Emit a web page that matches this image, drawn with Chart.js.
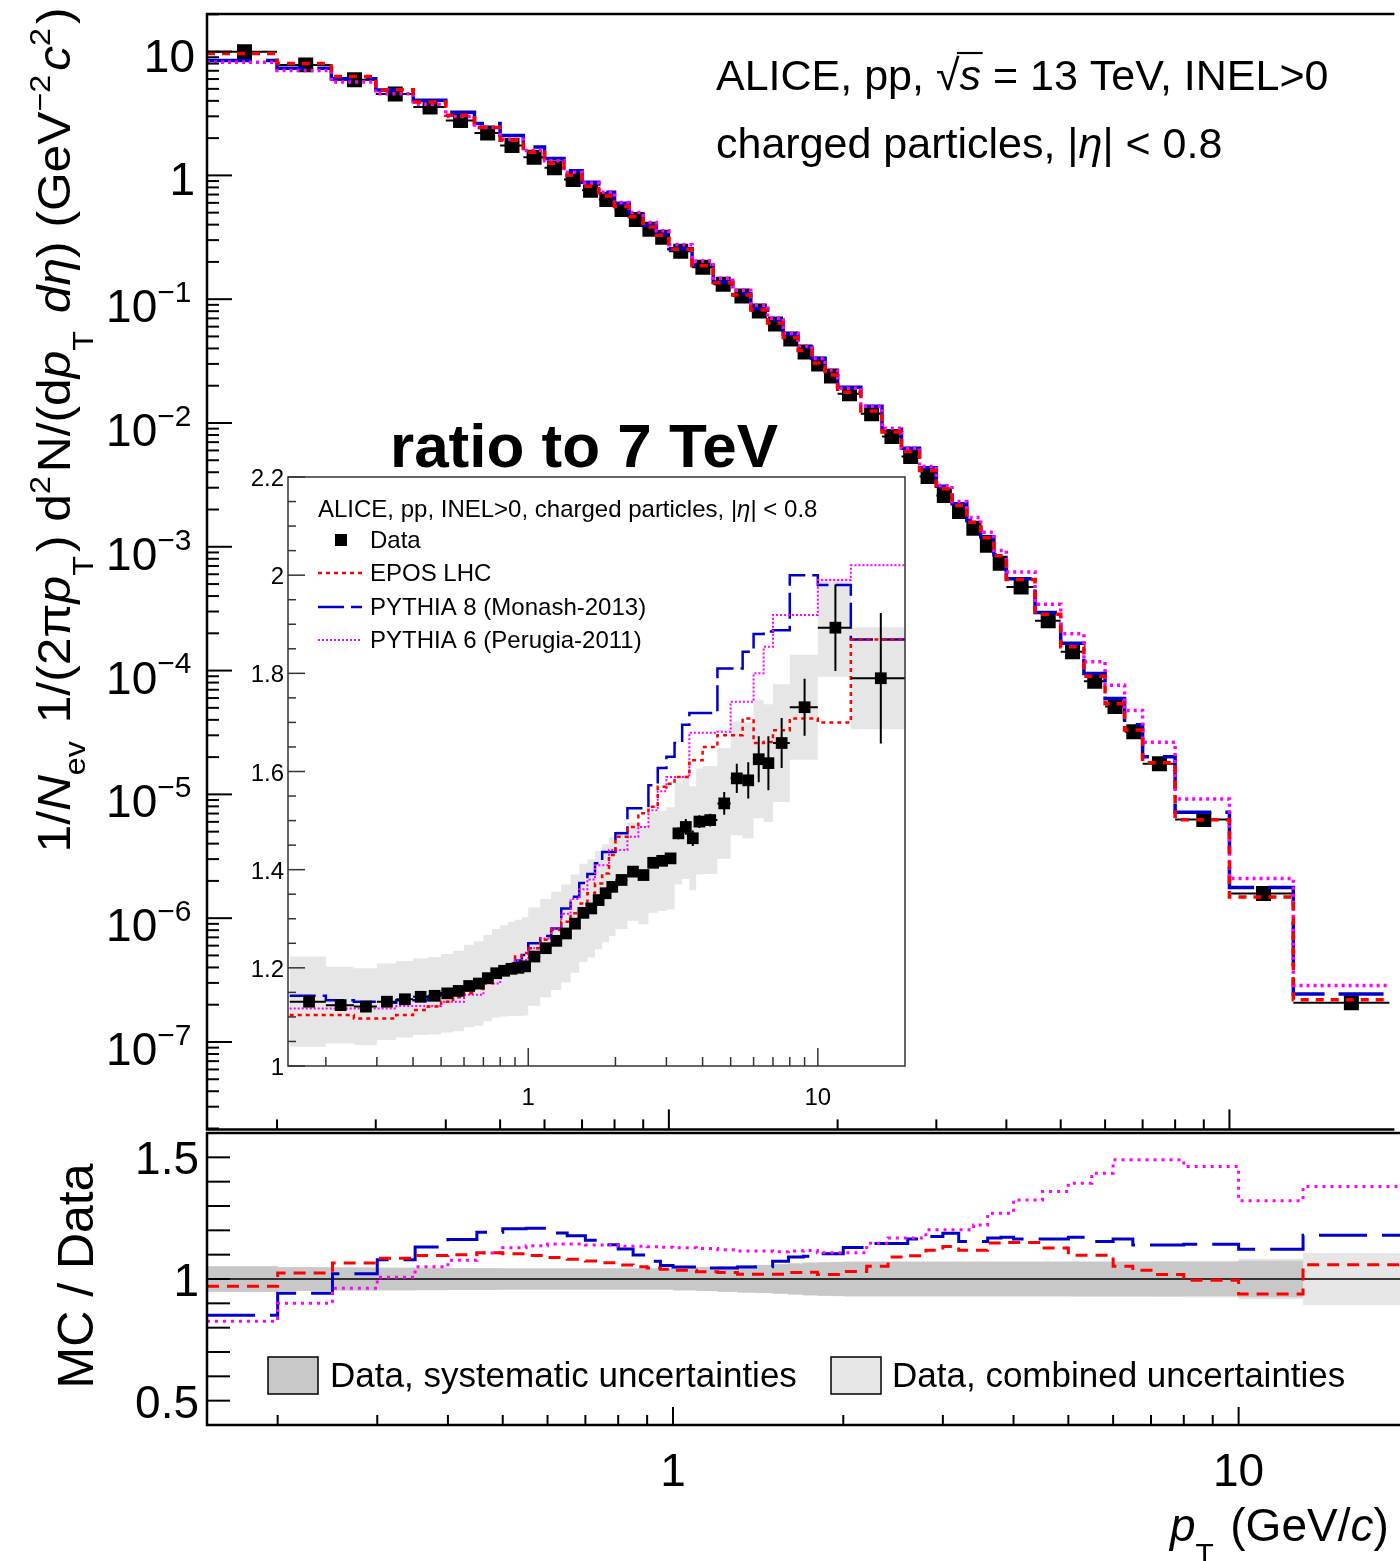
<!DOCTYPE html>
<html>
<head>
<meta charset="utf-8">
<script src="https://cdn.jsdelivr.net/npm/chart.js@4.4.1/dist/chart.umd.min.js"></script>
<style>
  html, body { margin: 0; padding: 0; background: #fff; overflow: hidden; }
  #page { position: relative; width: 1400px; height: 1561px; overflow: hidden; background: #fff; }
  canvas { position: absolute; }
</style>
</head>
<body>
<div id="page">
  <canvas id="mainChart" width="1400" height="1140" style="left:0;top:0"></canvas>
  <canvas id="ratioChart" width="1400" height="435" style="left:0;top:1126px"></canvas>
  <canvas id="insetChart" width="690" height="720" style="left:230px;top:400px"></canvas>
</div>
<script>
const FONT = '"Liberation Sans", Arial, Helvetica, sans-serif';
const RED = '#ff0000', BLUE = '#0000cc', MAGENTA = '#ff00ff';

// pT bin edges (GeV/c)
const binEdges = [0.15, 0.2, 0.25, 0.3, 0.35, 0.4, 0.45, 0.5, 0.55, 0.6, 0.65, 0.7, 0.75, 0.8, 0.85, 0.9, 0.95, 1.0,
  1.1, 1.2, 1.3, 1.4, 1.5, 1.6, 1.7, 1.8, 1.9, 2.0, 2.2, 2.4, 2.6, 2.8, 3.0, 3.2, 3.4, 3.6, 3.8, 4.0,
  4.5, 5.0, 5.5, 6.0, 6.5, 7.0, 8.0, 10.0, 13.0, 20.0];

// 13 TeV spectrum, 1/Nev 1/(2pi pT) d2N/(dpT deta)
const dataSpec = [9.95, 7.81, 5.91, 4.54, 3.57, 2.78, 2.20, 1.74, 1.40, 1.15, 0.927, 0.760, 0.640, 0.531, 0.441, 0.367, 0.316,
  0.244, 0.181, 0.132, 0.106, 0.0802, 0.0631, 0.0477, 0.0375, 0.0300, 0.0240,
  0.0172, 0.0119, 0.00776, 0.00536, 0.00370, 0.00260, 0.00193, 0.00141, 0.00103, 0.000736,
  4.73e-4, 2.53e-4, 1.42e-4, 8.20e-5, 5.12e-5, 3.20e-5,
  1.77e-5, 6.28e-6, 1.58e-6, 2.07e-7];

// MC / Data (lower panel)
const ratioEpos = [0.970, 1.025, 1.066, 1.085, 1.097, 1.100, 1.108, 1.104, 1.097, 1.088, 1.081, 1.074, 1.067, 1.058, 1.050, 1.045, 1.040,
  1.036, 1.030, 1.027, 1.020, 1.020, 1.020, 1.027, 1.028, 1.019, 1.019,
  1.031, 1.052, 1.090, 1.096, 1.118, 1.134, 1.118, 1.118, 1.148, 1.150,
  1.150, 1.127, 1.098, 1.098, 1.052, 1.036,
  1.018, 0.995, 0.938, 1.059];
const ratioPy8 = [0.851, 0.941, 1.022, 1.079, 1.132, 1.162, 1.192, 1.206, 1.209, 1.189, 1.178, 1.159, 1.141, 1.123, 1.099, 1.073, 1.055,
  1.049, 1.045, 1.045, 1.049, 1.050, 1.073, 1.090, 1.093, 1.104, 1.104,
  1.129, 1.146, 1.146, 1.164, 1.175, 1.188, 1.154, 1.154, 1.168, 1.172,
  1.164, 1.164, 1.172, 1.154, 1.164, 1.140,
  1.140, 1.143, 1.122, 1.180];
const ratioPy6 = [0.826, 0.900, 0.962, 1.007, 1.050, 1.077, 1.107, 1.128, 1.137, 1.144, 1.144, 1.140, 1.140, 1.135, 1.135, 1.133, 1.130,
  1.128, 1.125, 1.120, 1.115, 1.115, 1.112, 1.115, 1.117, 1.108, 1.108,
  1.108, 1.147, 1.168, 1.168, 1.202, 1.202, 1.202, 1.222, 1.270, 1.270,
  1.325, 1.360, 1.394, 1.435, 1.490, 1.490,
  1.490, 1.462, 1.322, 1.380];
// relative uncertainties of the data (half widths)
const sysRel = [0.052, 0.048, 0.047, 0.046, 0.045, 0.044, 0.044, 0.043, 0.043, 0.043, 0.043, 0.043, 0.043, 0.043, 0.043, 0.043, 0.043,
  0.046, 0.049, 0.052, 0.055, 0.058, 0.061, 0.064, 0.067, 0.069, 0.070,
  0.071, 0.071, 0.071, 0.071, 0.071, 0.071, 0.071, 0.071, 0.071, 0.071,
  0.071, 0.071, 0.071, 0.071, 0.071, 0.071,
  0.071, 0.071, 0.075, 0.0];
const combRel = [0.053, 0.049, 0.048, 0.047, 0.046, 0.045, 0.045, 0.044, 0.044, 0.044, 0.044, 0.044, 0.044, 0.044, 0.044, 0.044, 0.044,
  0.047, 0.050, 0.053, 0.056, 0.059, 0.062, 0.065, 0.068, 0.070, 0.071,
  0.072, 0.072, 0.072, 0.072, 0.072, 0.072, 0.072, 0.072, 0.072, 0.072,
  0.072, 0.072, 0.073, 0.073, 0.073, 0.073,
  0.074, 0.075, 0.083, 0.107];

// inset: ratio 13 TeV / 7 TeV
const insetData = [1.131, 1.124, 1.121, 1.131, 1.136, 1.141, 1.143, 1.148, 1.153, 1.163, 1.168, 1.179, 1.189, 1.194, 1.198, 1.200, 1.203,
  1.223, 1.240, 1.255, 1.270, 1.290, 1.312, 1.321, 1.338, 1.352, 1.365,
  1.379, 1.396, 1.389, 1.414, 1.418, 1.423, 1.474, 1.487, 1.464, 1.498,
  1.501, 1.535, 1.586, 1.582, 1.625, 1.617,
  1.658, 1.731, 1.893, 1.790];
const insetStat = [0.003, 0.003, 0.003, 0.003, 0.003, 0.003, 0.003, 0.003, 0.003, 0.003, 0.003, 0.003, 0.003, 0.003, 0.003, 0.003, 0.003,
  0.004, 0.004, 0.004, 0.004, 0.004, 0.004, 0.004, 0.004, 0.004, 0.004,
  0.005, 0.005, 0.006, 0.006, 0.007, 0.008, 0.012, 0.016, 0.016, 0.013,
  0.013, 0.023, 0.030, 0.037, 0.047, 0.055,
  0.051, 0.058, 0.088, 0.133];
const insetSys = [0.092, 0.078, 0.078, 0.078, 0.078, 0.078, 0.079, 0.080, 0.082, 0.084, 0.086, 0.088, 0.090, 0.093, 0.096, 0.098, 0.100,
  0.100, 0.100, 0.100, 0.100, 0.100, 0.100, 0.100, 0.100, 0.100, 0.100,
  0.100, 0.100, 0.100, 0.102, 0.102, 0.104, 0.104, 0.106, 0.106, 0.108,
  0.110, 0.113, 0.116, 0.118, 0.120, 0.120,
  0.120, 0.107, 0.100, 0.104];
const insetEpos = [1.104, 1.104, 1.097, 1.097, 1.104, 1.114, 1.121, 1.131, 1.140, 1.148, 1.158, 1.168, 1.182, 1.196, 1.209, 1.223, 1.230,
  1.240, 1.257, 1.277, 1.294, 1.311, 1.331, 1.352, 1.372, 1.392, 1.430,
  1.467, 1.487, 1.515, 1.528, 1.569, 1.575, 1.589, 1.589, 1.623, 1.623,
  1.650, 1.674, 1.674, 1.708, 1.658, 1.660,
  1.684, 1.708, 1.700, 1.869];
const insetPy8 = [1.143, 1.134, 1.131, 1.129, 1.134, 1.134, 1.141, 1.148, 1.153, 1.158, 1.164, 1.172, 1.182, 1.196, 1.205, 1.215, 1.226,
  1.250, 1.265, 1.280, 1.321, 1.345, 1.373, 1.391, 1.413, 1.436, 1.436,
  1.474, 1.525, 1.525, 1.572, 1.607, 1.630, 1.658, 1.695, 1.719, 1.719,
  1.719, 1.810, 1.810, 1.844, 1.880, 1.885,
  1.888, 2.000, 1.980, 1.869];
const insetPy6 = [1.117, 1.117, 1.117, 1.117, 1.122, 1.122, 1.122, 1.131, 1.131, 1.145, 1.145, 1.168, 1.168, 1.196, 1.196, 1.216, 1.216,
  1.240, 1.260, 1.280, 1.310, 1.340, 1.360, 1.380, 1.409, 1.409, 1.440,
  1.440, 1.467, 1.487, 1.521, 1.560, 1.589, 1.589, 1.589, 1.679, 1.679,
  1.679, 1.681, 1.742, 1.742, 1.800, 1.854,
  1.919, 1.919, 1.990, 2.020];

// tick labels
const mainYTickValues = [10, 1, 1e-1, 1e-2, 1e-3, 1e-4, 1e-5, 1e-6, 1e-7];
const mainYTickLabels = ['10', '1', '10^\u22121', '10^\u22122', '10^\u22123', '10^\u22124', '10^\u22125', '10^\u22126', '10^\u22127'];
const ratioYTickValues = [1.5, 1, 0.5];
const ratioYTickLabels = ['1.5', '1', '0.5'];
const xTickValues = [1, 10];
const xTickLabels = ['1', '10'];
const insetYTickValues = [1, 1.2, 1.4, 1.6, 1.8, 2, 2.2];
const insetYTickLabels = ['1', '1.2', '1.4', '1.6', '1.8', '2', '2.2'];

// axis ranges
const xMinMain = 0.15, xMaxMain = 19.29;
const yMinMain = 1.967e-8, yMaxMain = 20.12;
const xMinInset = 0.148, xMaxInset = 20;
const OY = 1126, IX = 230, IY = 400;

const binCenters = binEdges.slice(0, -1).map((e, i) => (e + binEdges[i + 1]) / 2);
const eposSpec = dataSpec.map((v, i) => v * ratioEpos[i]);
const py8Spec = dataSpec.map((v, i) => v * ratioPy8[i]);
const py6Spec = dataSpec.map((v, i) => v * ratioPy6[i]);

function hist(vals) {
  return binEdges.map((e, i) => ({ x: e, y: vals[Math.min(i, vals.length - 1)] }));
}
function points(vals) {
  return binCenters.map((c, i) => ({ x: c, y: vals[i] }));
}
function errBars(vals, errs) {
  const out = [];
  vals.forEach((v, i) => {
    out.push({ x: binEdges[i], y: v }, { x: binEdges[i + 1], y: v }, { x: binCenters[i], y: null });
    if (errs) out.push({ x: binCenters[i], y: v - errs[i] }, { x: binCenters[i], y: v + errs[i] }, { x: binCenters[i], y: null });
  });
  return out;
}

function drawRich(ctx, parts, x, y, size, align, measureOnly) {
  const items = parts.map(([t, k]) => {
    const small = k === 'sub' || k === 'subp' || k === 'sup';
    const fs = small ? size * 0.65 : size;
    let style = '';
    if (k === 'i' || k === 'io') style = 'italic ';
    if (k === 'b') style = 'bold ';
    const font = style + fs.toFixed(1) + 'px ' + FONT;
    ctx.font = font;
    let dy = 0;
    if (k === 'sub') dy = size * 0.32;
    if (k === 'subp') dy = size * 0.5;
    if (k === 'sup') dy = -size * 0.44;
    const gap = small ? size * 0.08 : 0;
    return { t, k, font, dy, w: ctx.measureText(t).width + gap };
  });
  const total = items.reduce((s, it) => s + it.w, 0);
  if (measureOnly) return total;
  let cx = align === 'right' ? x - total : align === 'center' ? x - total / 2 : x;
  ctx.fillStyle = '#000';
  ctx.textAlign = 'left';
  ctx.textBaseline = 'alphabetic';
  items.forEach(it => {
    ctx.font = it.font;
    ctx.fillText(it.t, cx, y + it.dy);
    if (it.k === 'io') {
      ctx.save();
      ctx.strokeStyle = '#000';
      ctx.lineWidth = size * 0.05;
      ctx.beginPath();
      ctx.moveTo(cx - size * 0.06, y - size * 0.86);
      ctx.lineTo(cx + it.w + size * 0.04, y - size * 0.86);
      ctx.stroke();
      ctx.restore();
    }
    cx += it.w;
  });
  return total;
}

function seg(ctx, x1, y1, x2, y2) {
  ctx.beginPath(); ctx.moveTo(x1, y1); ctx.lineTo(x2, y2); ctx.stroke();
}
function logTicks(min, max) {
  const out = [];
  for (let k = Math.floor(Math.log10(min)); k <= Math.ceil(Math.log10(max)); k++) {
    for (let m = 1; m <= 9; m++) {
      const v = m * Math.pow(10, k);
      if (v > min && v < max) out.push({ v, major: m === 1 });
    }
  }
  return out;
}
function tickText(ctx, label, xr, py, size) {
  if (label.includes('^')) {
    const [b, e] = label.split('^');
    drawRich(ctx, [[b, 'n'], [e, 'sup']], xr, py + 23, size, 'right');
  } else {
    drawRich(ctx, [[label, 'n']], xr, py + 20, size, 'right');
  }
}

const yTitleParts = [['1/', 'n'], ['N', 'i'], ['ev', 'sub'], [' 1/(2\u03c0', 'n'], ['p', 'i'], ['T', 'subp'], [') d', 'n'], ['2', 'sup'],
  ['N/(d', 'n'], ['p', 'i'], ['T', 'subp'], [' ', 'n'], ['d\u03b7', 'i'], [') (GeV', 'n'], ['\u22122', 'sup'], ['c', 'i'], ['2', 'sup'], [')', 'n']];

const mainDecor = {
  id: 'mainDecor',
  afterDraw(chart) {
    const { ctx, chartArea: a, scales: { x, y } } = chart;
    ctx.save();
    ctx.strokeStyle = '#000';
    ctx.lineWidth = 2;
    logTicks(yMinMain, yMaxMain).forEach(t => {
      const py = y.getPixelForValue(t.v);
      seg(ctx, a.left, py, a.left + (t.major ? 25 : 12), py);
    });
    logTicks(xMinMain, xMaxMain).forEach(t => {
      const px = x.getPixelForValue(t.v);
      seg(ctx, px, a.bottom, px, a.bottom - (t.major ? 20 : 10));
    });
    ctx.lineWidth = 2.5;
    ctx.beginPath();
    ctx.moveTo(a.right + 5, a.top); ctx.lineTo(a.left, a.top); ctx.lineTo(a.left, a.bottom); ctx.lineTo(a.right + 5, a.bottom);
    ctx.stroke();
    mainYTickValues.forEach((v, i) => tickText(ctx, mainYTickLabels[i], 195, y.getPixelForValue(v), 46));
    // axis title
    const w = drawRich(ctx, yTitleParts, 0, 0, 46, 'center', true);
    ctx.save();
    ctx.translate(70, 430);
    ctx.rotate(-Math.PI / 2);
    ctx.scale(845 / w, 1);
    drawRich(ctx, yTitleParts, 0, 0, 46, 'center');
    ctx.restore();
    drawRich(ctx, [['ALICE, pp, ', 'n'], ['\u221a', 'n'], ['s', 'io'], [' = 13 TeV, INEL>0', 'n']], 716, 90, 43, 'left');
    drawRich(ctx, [['charged particles, |', 'n'], ['\u03b7', 'i'], ['| < 0.8', 'n']], 716, 158, 43, 'left');
    ctx.restore();
  }
};

const ratioDecor = {
  id: 'ratioDecor',
  afterDraw(chart) {
    const { ctx, chartArea: a, scales: { x, y } } = chart;
    ctx.save();
    ctx.strokeStyle = '#000';
    ctx.lineWidth = 2;
    for (let k = 5; k <= 15; k++) {
      const py = y.getPixelForValue(k / 10);
      seg(ctx, a.left, py, a.left + 23, py);
    }
    logTicks(xMinMain, xMaxMain).forEach(t => {
      const px = x.getPixelForValue(t.v);
      seg(ctx, px, a.bottom, px, a.bottom - (t.major ? 18 : 10));
    });
    ctx.lineWidth = 2.5;
    ctx.beginPath();
    ctx.moveTo(a.right + 5, a.top); ctx.lineTo(a.left, a.top); ctx.lineTo(a.left, a.bottom); ctx.lineTo(a.right + 5, a.bottom);
    ctx.stroke();
    ratioYTickValues.forEach((v, i) => drawRich(ctx, [[ratioYTickLabels[i], 'n']], 199, y.getPixelForValue(v) + 17, 46, 'right'));
    xTickValues.forEach((v, i) => drawRich(ctx, [[xTickLabels[i], 'n']], x.getPixelForValue(v), 1486 - OY, 46, 'center'));
    drawRich(ctx, [['p', 'i'], ['T', 'subp'], [' (GeV/', 'n'], ['c', 'i'], [')', 'n']], 1170, 1541 - OY, 46, 'left');
    ctx.save();
    ctx.translate(93, 1276 - OY);
    ctx.rotate(-Math.PI / 2);
    drawRich(ctx, [['MC / Data', 'n']], 0, 0, 50, 'center');
    ctx.restore();
    // legend
    ctx.lineWidth = 1.5;
    ctx.fillStyle = '#c8c8c8';
    ctx.fillRect(268, 1357 - OY, 50, 37);
    ctx.strokeRect(268, 1357 - OY, 50, 37);
    drawRich(ctx, [['Data, systematic uncertainties', 'n']], 330, 1387 - OY, 35, 'left');
    ctx.fillStyle = '#e6e6e6';
    ctx.fillRect(831, 1357 - OY, 50, 37);
    ctx.strokeRect(831, 1357 - OY, 50, 37);
    drawRich(ctx, [['Data, combined uncertainties', 'n']], 892, 1387 - OY, 35, 'left');
    ctx.restore();
  }
};

const insetDecor = {
  id: 'insetDecor',
  beforeDraw(chart) {
    const { ctx, chartArea: a } = chart;
    ctx.save();
    ctx.fillStyle = '#fff';
    ctx.fillRect(a.left, a.top, a.right - a.left, a.bottom - a.top);
    ctx.restore();
  },
  afterDraw(chart) {
    const { ctx, chartArea: a, scales: { x, y } } = chart;
    ctx.save();
    ctx.strokeStyle = '#333';
    ctx.lineWidth = 1.5;
    for (let k = 20; k <= 44; k++) {
      const py = y.getPixelForValue(k / 20);
      seg(ctx, a.left, py, a.left + (k % 4 === 0 ? 17 : 8), py);
    }
    logTicks(xMinInset, xMaxInset).forEach(t => {
      const px = x.getPixelForValue(t.v);
      seg(ctx, px, a.bottom, px, a.bottom - (t.major ? 18 : 9));
    });
    ctx.strokeRect(a.left, a.top, a.right - a.left, a.bottom - a.top);
    insetYTickValues.forEach((v, i) => drawRich(ctx, [[insetYTickLabels[i], 'n']], 284 - IX, y.getPixelForValue(v) + 9, 24, 'right'));
    xTickValues.forEach((v, i) => drawRich(ctx, [[xTickLabels[i], 'n']], x.getPixelForValue(v), 1105 - IY, 24, 'center'));
    drawRich(ctx, [['ratio to 7 TeV', 'b']], 390 - IX, 467 - IY, 62, 'left');
    drawRich(ctx, [['ALICE, pp, INEL>0, charged particles, |', 'n'], ['\u03b7', 'i'], ['| < 0.8', 'n']], 318 - IX, 517 - IY, 24, 'left');
    // legend entries
    ctx.fillStyle = '#000';
    ctx.fillRect(341 - 6 - IX, 540 - 6 - IY, 12, 12);
    drawRich(ctx, [['Data', 'n']], 370 - IX, 548 - IY, 24, 'left');
    const entries = [
      { label: 'EPOS LHC', c: RED, w: 2.5, d: [4, 4], py: 573 },
      { label: 'PYTHIA 8 (Monash-2013)', c: BLUE, w: 2.5, d: [26, 7], py: 607 },
      { label: 'PYTHIA 6 (Perugia-2011)', c: MAGENTA, w: 2, d: [2, 2], py: 640 }
    ];
    entries.forEach(e => {
      ctx.save();
      ctx.strokeStyle = e.c; ctx.lineWidth = e.w; ctx.setLineDash(e.d);
      seg(ctx, 318 - IX, e.py - IY, 362 - IX, e.py - IY);
      ctx.restore();
      drawRich(ctx, [[e.label, 'n']], 370 - IX, e.py + 8 - IY, 24, 'left');
    });
    ctx.restore();
  }
};

const baseOptions = (padding, xScale, yScale) => ({
  responsive: false,
  animation: false,
  devicePixelRatio: 1,
  layout: { padding },
  plugins: { legend: { display: false }, tooltip: { enabled: false } },
  scales: { x: xScale, y: yScale },
  elements: { line: { tension: 0 }, point: { radius: 0 } }
});

const stepLine = (label, vals, color, width, dash, order) => ({
  label, data: hist(vals), stepped: true, borderColor: color, borderWidth: width, borderDash: dash,
  pointRadius: 0, fill: false, order
});

new Chart(document.getElementById('mainChart'), {
  type: 'line',
  data: {
    datasets: [
      stepLine('EPOS LHC', eposSpec, RED, 3.5, [8, 7], 1),
      stepLine('PYTHIA 6 (Perugia-2011)', py6Spec, MAGENTA, 3.5, [3, 4], 2),
      stepLine('PYTHIA 8 (Monash-2013)', py8Spec, BLUE, 3.5, [45, 14], 3),
      { label: 'Data', data: points(dataSpec), showLine: false, pointStyle: 'rect', pointRadius: 10.6,
        pointBackgroundColor: '#000', pointBorderWidth: 0, order: 4 },
      { label: 'bin width', data: errBars(dataSpec), borderColor: '#000', borderWidth: 2, pointRadius: 0, spanGaps: false, order: 5 }
    ]
  },
  options: baseOptions({ left: 207, top: 14, right: 0, bottom: 7 },
    { type: 'logarithmic', min: xMinMain, max: xMaxMain, display: false, bounds: 'data' },
    { type: 'logarithmic', min: yMinMain, max: yMaxMain, display: false, bounds: 'data' }),
  plugins: [mainDecor]
});

new Chart(document.getElementById('ratioChart'), {
  type: 'line',
  data: {
    datasets: [
      { label: 'comb up', data: hist(combRel.map(h => 1 + h)), stepped: true, borderWidth: 0, pointRadius: 0, fill: false, order: 9 },
      { label: 'Data, combined uncertainties', data: hist(combRel.map(h => 1 - h)), stepped: true, borderWidth: 0, pointRadius: 0,
        fill: '-1', backgroundColor: '#e6e6e6', order: 8 },
      { label: 'sys up', data: hist(sysRel.map(h => 1 + h)), stepped: true, borderWidth: 0, pointRadius: 0, fill: false, order: 7 },
      { label: 'Data, systematic uncertainties', data: hist(sysRel.map(h => 1 - h)), stepped: true, borderWidth: 0, pointRadius: 0,
        fill: '-1', backgroundColor: '#c8c8c8', order: 6 },
      { label: 'unity', data: [{ x: xMinMain, y: 1 }, { x: 20, y: 1 }], borderColor: '#000', borderWidth: 1.5, pointRadius: 0, order: 5 },
      stepLine('PYTHIA 8 (Monash-2013)', ratioPy8, BLUE, 3, [48, 15], 3),
      stepLine('PYTHIA 6 (Perugia-2011)', ratioPy6, MAGENTA, 3, [3, 5], 2),
      stepLine('EPOS LHC', ratioEpos, RED, 3, [12, 8], 1)
    ]
  },
  options: baseOptions({ left: 207, top: 7, right: 0, bottom: 136 },
    { type: 'logarithmic', min: xMinMain, max: xMaxMain, display: false, bounds: 'data' },
    { type: 'linear', min: 0.4, max: 1.6, display: false, bounds: 'data' }),
  plugins: [ratioDecor]
});

new Chart(document.getElementById('insetChart'), {
  type: 'line',
  data: {
    datasets: [
      { label: 'sys up', data: hist(insetData.map((v, i) => v + insetSys[i])), stepped: true, borderWidth: 0, pointRadius: 0, fill: false, order: 9 },
      { label: 'sys', data: hist(insetData.map((v, i) => v - insetSys[i])), stepped: true, borderWidth: 0, pointRadius: 0,
        fill: '-1', backgroundColor: '#e6e6e6', order: 8 },
      stepLine('PYTHIA 8 (Monash-2013)', insetPy8, BLUE, 2.5, [26, 7], 5),
      stepLine('PYTHIA 6 (Perugia-2011)', insetPy6, MAGENTA, 2, [2, 2], 4),
      stepLine('EPOS LHC', insetEpos, RED, 2.5, [4, 4], 3),
      { label: 'errors', data: errBars(insetData, insetStat), borderColor: '#000', borderWidth: 2, pointRadius: 0, spanGaps: false, order: 2 },
      { label: 'Data', data: points(insetData), showLine: false, pointStyle: 'rect', pointRadius: 8.3,
        pointBackgroundColor: '#000', pointBorderWidth: 0, order: 1 }
    ]
  },
  options: baseOptions({ left: 58, top: 77, right: 15, bottom: 54 },
    { type: 'logarithmic', min: xMinInset, max: xMaxInset, display: false, bounds: 'data' },
    { type: 'linear', min: 1.0, max: 2.2, display: false, bounds: 'data' }),
  plugins: [insetDecor]
});
</script>
</body>
</html>
